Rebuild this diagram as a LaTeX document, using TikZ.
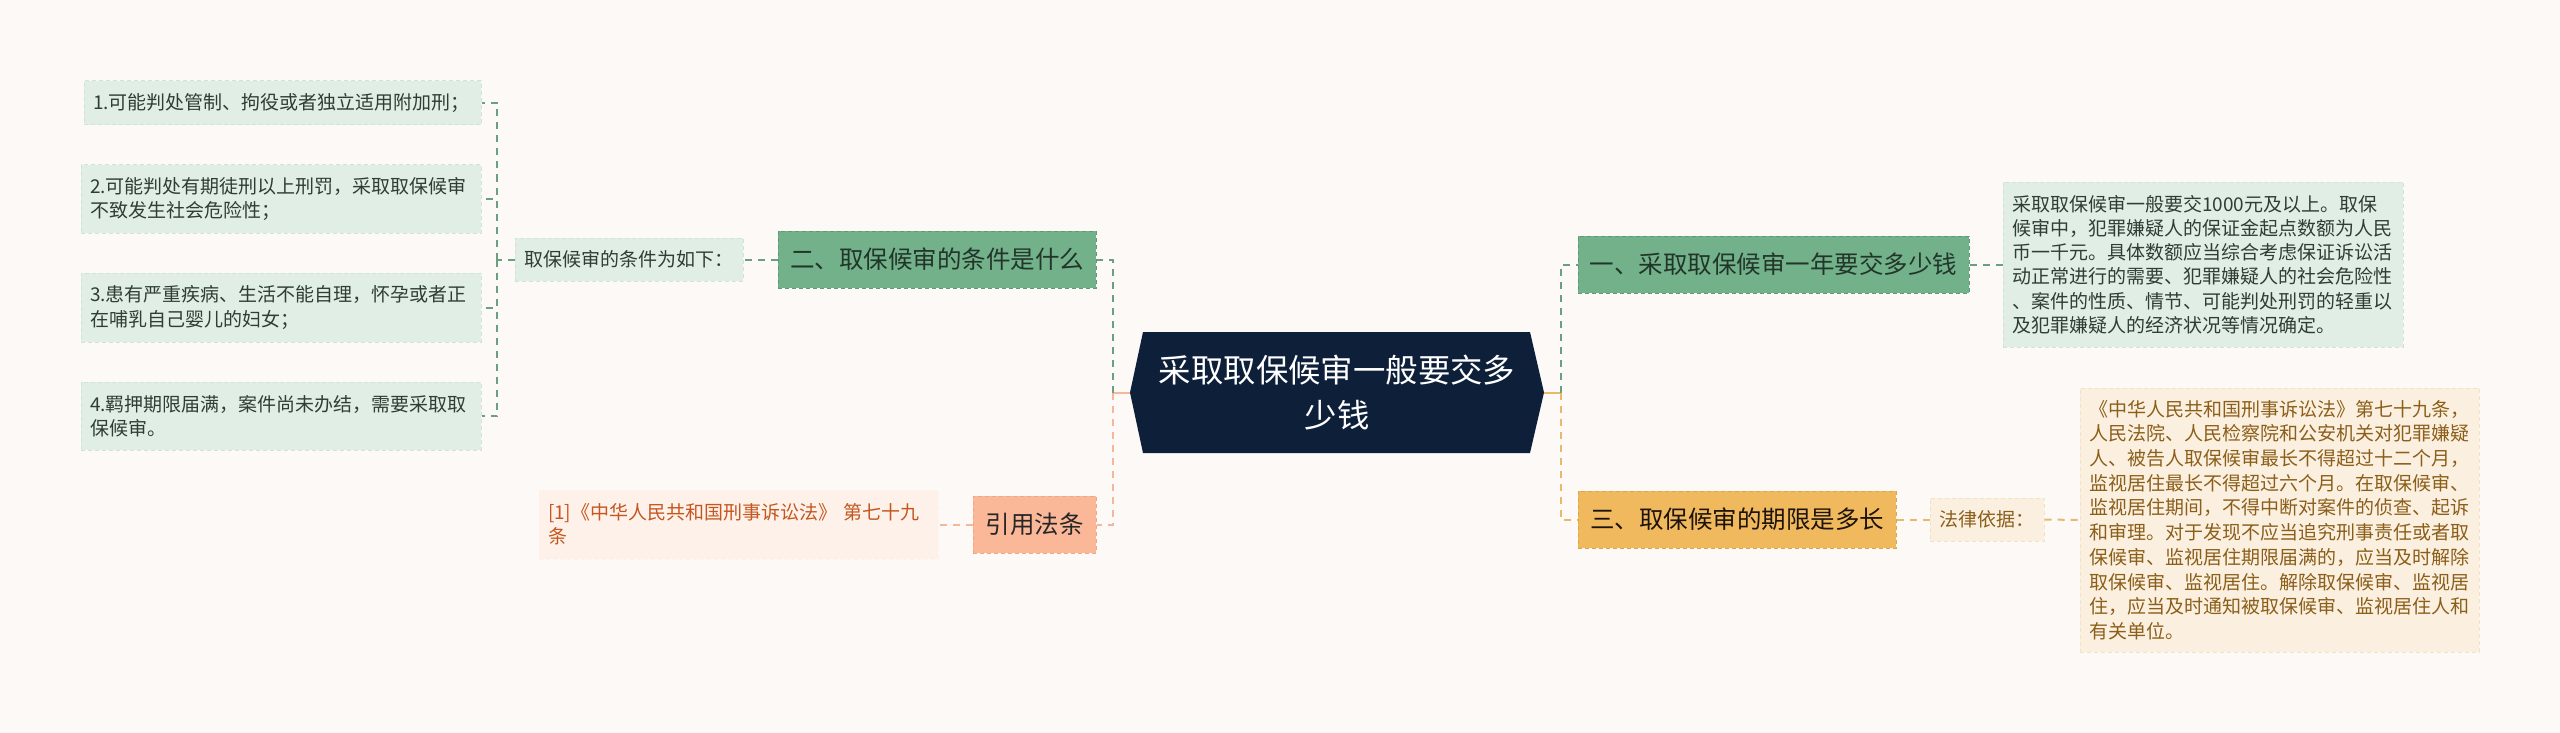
\documentclass[tikz,border=0pt]{standalone}
\usepackage{fontspec}
\setmainfont{Noto Sans CJK SC}
\definecolor{bg}{HTML}{FCF9F7}
\definecolor{leaffill}{HTML}{E0EEE5}
\definecolor{leafdraw}{HTML}{CFE3D6}
\definecolor{leaftext}{HTML}{2F3D34}
\definecolor{gfill}{HTML}{72B189}
\definecolor{gdraw}{HTML}{5C9C74}
\definecolor{gtext}{HTML}{22352A}
\definecolor{gline}{HTML}{6A9F82}
\definecolor{rootfill}{HTML}{0E1F39}
\definecolor{cfill}{HTML}{FBB898}
\definecolor{cdraw}{HTML}{F4A583}
\definecolor{oline}{HTML}{F3B79B}
\definecolor{reffill}{HTML}{FEF1EA}
\definecolor{reftext}{HTML}{C4561E}
\definecolor{yfill}{HTML}{F0B95E}
\definecolor{ydraw}{HTML}{DDA648}
\definecolor{yline}{HTML}{E6BA6E}
\definecolor{ltfill}{HTML}{FBF0DF}
\definecolor{ltdraw}{HTML}{F3E3C6}
\definecolor{lttext}{HTML}{8B5E1A}
\tikzset{
  box/.style={rectangle, inner xsep=9pt, inner ysep=0pt, align=left, line width=1pt, dash pattern=on 4pt off 3pt},
  leaf/.style={box, fill=leaffill, draw=leafdraw, text=leaftext, font=\fontsize{19}{24.3}\selectfont},
  gbranch/.style={box, align=center, fill=gfill, draw=gdraw, text=gtext, font=\fontsize{24.5}{30}\selectfont},
  cbranch/.style={box, align=center, fill=cfill, draw=cdraw, text=black!85, font=\fontsize{24.5}{30}\selectfont},
  ybranch/.style={box, align=center, fill=yfill, draw=ydraw, text=black!85!brown, font=\fontsize{24.5}{30}\selectfont},
  refbox/.style={box, fill=reffill, draw=reffill, text=reftext, font=\fontsize{19}{24.3}\selectfont},
  ltbox/.style={box, fill=ltfill, draw=ltdraw, text=lttext, font=\fontsize{19}{24.7}\selectfont},
  conn/.style={line width=2pt, dash pattern=on 7pt off 6pt},
  gconn/.style={conn, draw=gline},
  oconn/.style={conn, draw=oline},
  yconn/.style={conn, draw=yline},
  stub/.style={line width=2pt, solid}
}
\begin{document}
\begin{tikzpicture}[x=1pt, y=-1pt]
\useasboundingbox (0,0) rectangle (2560,733);
\fill[bg] (0,0) rectangle (2560,733);

% left leaves
\node[leaf, text width=379pt, minimum height=44pt] (L1) at (282.5,103)
  {1.可能判处管制、拘役或者独立适用附加刑；};
\node[leaf, text width=382pt, minimum height=68pt] (L2) at (281,199)
  {2.可能判处有期徒刑以上刑罚，采取取保候审\\不致发生社会危险性；};
\node[leaf, text width=382pt, minimum height=69pt] (L3) at (281,307.5)
  {3.患有严重疾病、生活不能自理，怀孕或者正\\在哺乳自己婴儿的妇女；};
\node[leaf, text width=382pt, minimum height=68pt] (L4) at (281,416)
  {4.羁押期限届满，案件尚未办结，需要采取取\\保候审。};

\node[leaf, text width=210pt, minimum height=43pt] (sub) at (629,259.5)
  {取保候审的条件为如下：};

\node[gbranch, minimum width=318pt, minimum height=57pt] (b2) at (937,259.5)
  {二、取保候审的条件是什么};

\node[refbox, text width=381pt, minimum height=69pt] (ref) at (738.5,524.5)
  {[1]《中华人民共和国刑事诉讼法》 第七十九\\条};
\node[cbranch, minimum width=123pt, minimum height=57pt] (cite) at (1034.5,524.5)
  {引用法条};

% root
\fill[rootfill] (1130,392.5) -- (1143,332) -- (1530,332) -- (1544,392.5) -- (1530,453) -- (1143,453) -- cycle;
\node[align=center, text=white, font=\fontsize{32.4}{45}\selectfont, minimum width=414pt, minimum height=121pt, inner sep=0pt] (root) at (1337,392.5)
  {采取取保候审一般要交多\\少钱};

% right side
\node[gbranch, minimum width=391pt, minimum height=57pt] (b1) at (1773.5,264.5)
  {一、采取取保候审一年要交多少钱};
\node[leaf, text width=382pt, minimum height=165pt] (d1) at (2203,264.5)
  {采取取保候审一般要交1000元及以上。取保\\候审中，犯罪嫌疑人的保证金起点数额为人民\\币一千元。具体数额应当综合考虑保证诉讼活\\动正常进行的需要、犯罪嫌疑人的社会危险性\\、案件的性质、情节、可能判处刑罚的轻重以\\及犯罪嫌疑人的经济状况等情况确定。};

\node[ybranch, minimum width=318pt, minimum height=57pt] (b3) at (1737,519.5)
  {三、取保候审的期限是多长};
\node[ltbox, text width=96pt, minimum height=43pt] (law) at (1987,519.5)
  {法律依据：};
\node[ltbox, text width=381pt, minimum height=264pt] (d3) at (2279.5,520)
  {《中华人民共和国刑事诉讼法》第七十九条，\\人民法院、人民检察院和公安机关对犯罪嫌疑\\人、被告人取保候审最长不得超过十二个月，\\监视居住最长不得超过六个月。在取保候审、\\监视居住期间，不得中断对案件的侦查、起诉\\和审理。对于发现不应当追究刑事责任或者取\\保候审、监视居住期限届满的，应当及时解除\\取保候审、监视居住。解除取保候审、监视居\\住，应当及时通知被取保候审、监视居住人和\\有关单位。};

% connectors left
\coordinate (lb) at (497,259.5);
\draw[gconn] (sub.west) -- (lb);
\draw[gconn] (lb) |- (L1.east);
\draw[gconn] (lb) |- (L2.east);
\draw[gconn] (lb) |- (L3.east);
\draw[gconn] (lb) |- (L4.east);
\draw[gconn] (b2.west) -- (sub.east);

\coordinate (lj) at (1113,392.5);
\draw[oline, stub] (root.west) -- (lj);
\draw[gconn] (lj) |- (b2.east);
\draw[oconn] (lj) |- (cite.east);
\draw[oconn] (cite.west) -- (ref.east);

% connectors right
\coordinate (rj) at (1561,392.5);
\draw[yline, stub] (root.east) -- (rj);
\draw[gconn] (rj) |- (b1.west);
\draw[yconn] (rj) |- (b3.west);
\draw[gconn] (b1.east) -- (d1.west);
\draw[yconn] (b3.east) -- (law.west);
\draw[yconn] (law.east) -- (d3.west);
\end{tikzpicture}
\end{document}
